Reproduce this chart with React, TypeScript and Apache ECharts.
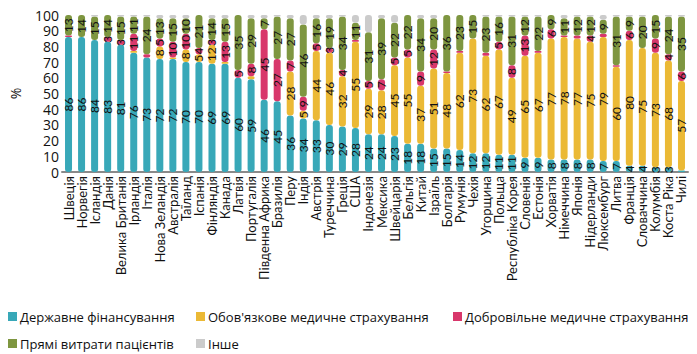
import React, { useEffect, useRef } from "react";
import * as echarts from "echarts";

const countries = [
  "Швеція", "Норвегія", "Ісландія", "Данія", "Велика Британія", "Ірландія", "Італія", "Нова Зеландія",
  "Австралія", "Таїланд", "Іспанія", "Фінляндія", "Канада", "Латвія", "Португалія", "Південна Африка",
  "Бразилія", "Перу", "Індія", "Австрія", "Туреччина", "Греція", "США", "Індонезія",
  "Мексика", "Швейцарія", "Бельгія", "Китай", "Ізраїль", "Болгарія", "Румунія", "Чехія",
  "Угорщина", "Польща", "Республіка Корея", "Словенія", "Естонія", "Хорватія", "Німеччина", "Японія",
  "Нідерланди", "Люксембург", "Литва", "Франція", "Словаччина", "Колумбія", "Коста Ріка", "Чилі",
];

const government = [86, 86, 84, 83, 81, 76, 73, 72, 72, 70, 70, 69, 69, 60, 59, 46, 45, 36, 34, 33, 30, 29, 28, 24, 24, 23, 18, 18, 15, 15, 14, 12, 12, 11, 11, 9, 9, 8, 8, 8, 8, 7, 7, 4, 4, 3, 3, 1];
const compulsory = [0, 0, 0, 0, 0, 1, 0, 8, 1, 8, 5, 12, 1, 0, 2, 0, 0, 28, 5, 44, 46, 32, 55, 29, 28, 45, 55, 37, 51, 48, 62, 73, 62, 67, 49, 65, 67, 77, 78, 77, 75, 79, 60, 80, 75, 73, 68, 57];
const voluntary = [1, 0, 0, 3, 3, 11, 2, 5, 10, 10, 4, 3, 13, 5, 8, 45, 27, 7, 9, 5, 3, 4, 1, 5, 7, 5, 5, 9, 12, 1, 1, 0, 2, 5, 8, 13, 1, 6, 1, 2, 4, 2, 1, 6, 0, 9, 4, 6];
const outOfPocket = [13, 14, 15, 14, 15, 11, 24, 13, 15, 10, 21, 14, 15, 35, 29, 7, 27, 27, 46, 16, 19, 34, 11, 31, 39, 22, 22, 34, 20, 36, 23, 15, 23, 16, 31, 12, 22, 9, 11, 12, 12, 9, 31, 9, 20, 15, 24, 35];
const other = [0, 0, 1, 0, 1, 1, 1, 2, 2, 2, 0, 2, 2, 0, 2, 2, 1, 2, 6, 2, 2, 1, 5, 11, 2, 5, 0, 2, 2, 0, 0, 0, 1, 1, 1, 1, 1, 0, 2, 1, 1, 3, 1, 1, 1, 0, 1, 1];

const seriesNames = [
  "Державне фінансування",
  "Обов'язкове медичне страхування",
  "Добровільне медичне страхування",
  "Прямі витрати пацієнтів",
  "Інше",
];
const colors = ["#38a8b8", "#ebb935", "#d8376b", "#7e9640", "#cbcbcb"];
const yTicks = [0, 10, 20, 30, 40, 50, 60, 70, 80, 90, 100];

const FONT = "Lato";
const LFONT = "Open Sans";

export default function App() {
  const ref = useRef<HTMLDivElement>(null);
  useEffect(() => {
    if (!ref.current) return;
    const chart = echarts.init(ref.current, undefined, { renderer: "svg" });
    const datasets = [government, compulsory, voluntary, outOfPocket, other];
    const series = datasets.map((d, i) => ({
      name: seriesNames[i],
      type: "bar",
      stack: "total",
      data: d,
      barWidth: 7,
      itemStyle: { color: colors[i], borderRadius: 3 },
      label: {
        show: i < 4,
        position: "inside",
        rotate: 90,
        color: "#111",
        fontSize: 12,
        fontFamily: FONT,
        formatter: (p: any) => (p.value >= 3 ? String(p.value) : ""),
      },
    }));
    const legendPos = [
      { left: 3, top: 305 },
      { left: 191, top: 305 },
      { left: 448, top: 305 },
      { left: 3, top: 332 },
      { left: 191, top: 332 },
    ];
    chart.setOption({
      animation: false,
      textStyle: { fontFamily: FONT },
      grid: { left: 57, right: 9, top: 15, bottom: 182, containLabel: false },
      legend: seriesNames.map((n, i) => ({
        data: [n],
        left: legendPos[i].left,
        top: legendPos[i].top,
        itemWidth: 9,
        itemHeight: 9,
        itemGap: 4,
        icon: "rect",
        selectedMode: false,
        textStyle: { fontSize: 13, color: "#111", fontFamily: LFONT, padding: [0, 0, 0, -2] },
      })),
      xAxis: {
        type: "category",
        data: countries,
        axisTick: { show: false },
        axisLine: { lineStyle: { color: "#8a8a8a", width: 2 } },
        axisLabel: { interval: 0, rotate: 90, fontSize: 13, color: "#111", margin: 4, fontFamily: FONT },
      },
      yAxis: {
        type: "value",
        min: 0,
        max: 100,
        interval: 10,
        name: "%",
        nameLocation: "middle",
        nameRotate: 90,
        nameGap: 40,
        nameTextStyle: { fontSize: 14, color: "#111", fontFamily: LFONT },
        splitLine: { show: false },
        axisLine: { show: false },
        axisTick: { show: false },
        axisLabel: {
          fontSize: 14,
          lineHeight: 14,
          color: "#111",
          margin: 3,
          fontFamily: LFONT,
          formatter: (v: number) => (yTicks.includes(v) ? String(v) : ""),
        },
      },
      series,
    });
    return () => chart.dispose();
  }, []);
  return <div ref={ref} style={{ width: 697, height: 354, position: "absolute", left: 0, top: 0 }} />;
}
